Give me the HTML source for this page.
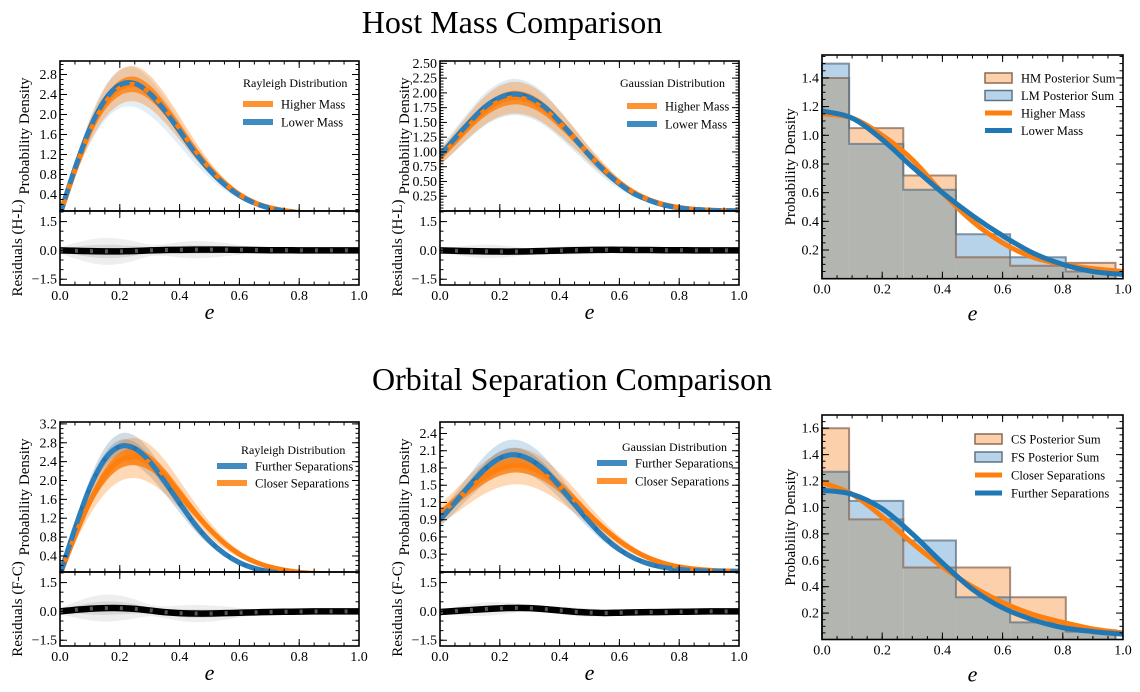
<!DOCTYPE html>
<html><head><meta charset="utf-8"><style>
html,body{margin:0;padding:0;background:#fff;}
svg{display:block;font-family:"Liberation Serif",serif;}
</style></head><body>
<svg id="fig" width="1140" height="692" viewBox="0 0 1140 692" xmlns="http://www.w3.org/2000/svg">
<text x="512" y="33" font-size="32" text-anchor="middle">Host Mass Comparison</text>
<text x="572" y="390" font-size="32" text-anchor="middle">Orbital Separation Comparison</text>
</svg>
<script>
// ---- shared e grid (categories) ----
const eGrid = [0,0.05,0.1,0.15,0.2,0.25,0.3,0.35,0.4,0.45,0.5,0.55,0.6,0.65,0.7,0.75,0.8,0.85,0.9,0.95,1.0];
// ---- Host mass, Rayleigh ----
const rayHigher = [0,0.88,1.66,2.22,2.53,2.60,2.44,2.12,1.72,1.30,0.93,0.63,0.40,0.24,0.14,0.08,0.04,0.02,0.01,0.004,0.002];
const rayLower  = [0,0.92,1.72,2.29,2.59,2.62,2.42,2.08,1.67,1.25,0.89,0.60,0.38,0.23,0.13,0.07,0.035,0.016,0.007,0.003,0.001];
const resRayHL  = [0,-0.02,-0.04,-0.05,-0.05,-0.03,0.0,0.02,0.03,0.04,0.04,0.04,0.03,0.02,0.01,0.01,0,0,0,0,0];
// ---- Host mass, Gaussian ----
const gauHigher = [0.90,1.18,1.46,1.70,1.86,1.92,1.87,1.72,1.49,1.23,0.95,0.70,0.48,0.31,0.19,0.11,0.06,0.03,0.015,0.007,0.003];
const gauLower  = [0.94,1.23,1.51,1.76,1.92,1.98,1.92,1.76,1.51,1.23,0.94,0.68,0.46,0.29,0.18,0.10,0.054,0.027,0.012,0.005,0.002];
const resGauHL  = [0,-0.02,-0.04,-0.05,-0.06,-0.06,-0.05,-0.03,-0.01,0.01,0.02,0.03,0.03,0.02,0.02,0.01,0.01,0,0,0,0];
// ---- Orbital separation, Rayleigh ----
const rayFurther = [0,0.98,1.85,2.45,2.72,2.68,2.40,1.98,1.52,1.08,0.72,0.45,0.26,0.14,0.07,0.035,0.016,0.007,0.003,0.001,0];
const rayCloser  = [0,0.82,1.55,2.10,2.42,2.50,2.38,2.10,1.72,1.33,0.97,0.67,0.44,0.28,0.17,0.10,0.055,0.03,0.015,0.007,0.003];
const resRayFC   = [0,0.08,0.14,0.17,0.17,0.13,0.05,-0.04,-0.09,-0.11,-0.11,-0.09,-0.07,-0.05,-0.03,-0.02,-0.01,0,0,0,0];
// ---- Orbital separation, Gaussian ----
const gauFurther = [0.90,1.20,1.50,1.78,1.97,2.03,1.95,1.76,1.48,1.17,0.86,0.59,0.38,0.23,0.13,0.07,0.035,0.016,0.007,0.003,0.001];
const gauCloser  = [1.00,1.22,1.45,1.65,1.79,1.85,1.81,1.68,1.48,1.24,0.98,0.74,0.53,0.36,0.23,0.14,0.08,0.042,0.021,0.01,0.004];
const resGauFC   = [-0.03,0.02,0.07,0.12,0.16,0.18,0.17,0.12,0.05,-0.02,-0.06,-0.08,-0.07,-0.05,-0.04,-0.03,-0.02,-0.01,0,0,0];
// ---- residual spread (sample scatter) ----
const resSpread  = [0.15,0.4,0.6,0.7,0.65,0.5,0.3,0.3,0.4,0.45,0.42,0.35,0.25,0.15,0.1,0.05,0.03,0.01,0,0,0];
// ---- Histograms ----
const binEdges = [0,0.09,0.27,0.445,0.625,0.81,0.975];
const hmHist = [1.40,1.05,0.72,0.15,0.09,0.11];
const lmHist = [1.50,0.94,0.62,0.31,0.15,0.05];
const csHist = [1.60,0.91,0.545,0.545,0.32,0.07];
const fsHist = [1.27,1.05,0.75,0.32,0.13,0.06];
const hmCurve = [1.15,1.12,1.0,0.83,0.6,0.40,0.25,0.15,0.10,0.07,0.05];
const lmCurve = [1.17,1.12,0.97,0.78,0.6,0.44,0.30,0.18,0.10,0.05,0.03];
const csCurve = [1.19,1.10,0.93,0.73,0.55,0.40,0.28,0.19,0.13,0.08,0.05];
const fsCurve = [1.13,1.10,0.99,0.80,0.58,0.38,0.24,0.15,0.09,0.06,0.04];
const eCoarse = [0,0.1,0.2,0.3,0.4,0.5,0.6,0.7,0.8,0.9,1.0];

const NS = "http://www.w3.org/2000/svg";
const svg = document.getElementById('fig');
const ORANGE = "#ff7f0e", BLUE = "#1f77b4";

function mk(tag, attrs, parent){
  const el = document.createElementNS(NS, tag);
  for (const k in attrs) el.setAttribute(k, attrs[k]);
  (parent || svg).appendChild(el);
  return el;
}
function named(el, name, inter){
  
  
  return el;
}
function linScale(d0,d1,r0,r1){ return v => r0 + (v-d0)/(d1-d0)*(r1-r0); }
function smoothPath(pts){
  let d = "M"+pts[0][0].toFixed(2)+","+pts[0][1].toFixed(2);
  for (let i=0;i<pts.length-1;i++){
    const p0=pts[Math.max(0,i-1)], p1=pts[i], p2=pts[i+1], p3=pts[Math.min(pts.length-1,i+2)];
    const c1x=p1[0]+(p2[0]-p0[0])/6, c1y=p1[1]+(p2[1]-p0[1])/6;
    const c2x=p2[0]-(p3[0]-p1[0])/6, c2y=p2[1]-(p3[1]-p1[1])/6;
    d += " C"+c1x.toFixed(2)+","+c1y.toFixed(2)+" "+c2x.toFixed(2)+","+c2y.toFixed(2)+" "+p2[0].toFixed(2)+","+p2[1].toFixed(2);
  }
  return d;
}
function fmt(v,dec){ return v<0 ? "\u2212"+Math.abs(v).toFixed(dec) : v.toFixed(dec); }

function frame(g, x0,x1,y0,y1, sx, sy, xMaj, xMin, yMaj, yMin, yDec, showX, name){
  const r = mk('rect',{x:x0,y:y0,width:x1-x0,height:y1-y0,fill:'none',stroke:'#000','stroke-width':1.6},g);
  named(r, name+'-frame', false);
  const tg = mk('g',{stroke:'#000','stroke-width':1},g);
  named(tg, name+'-ticks', false);
  xMin.forEach(v=>{const X=sx(v); mk('line',{x1:X,x2:X,y1:y1,y2:y1-3.5},tg); mk('line',{x1:X,x2:X,y1:y0,y2:y0+3.5},tg);});
  xMaj.forEach(v=>{const X=sx(v); mk('line',{x1:X,x2:X,y1:y1,y2:y1-7},tg); mk('line',{x1:X,x2:X,y1:y0,y2:y0+7},tg);});
  yMin.forEach(v=>{const Y=sy(v); if(Y<y0-0.5||Y>y1+0.5)return; mk('line',{x1:x0,x2:x0+3.5,y1:Y,y2:Y},tg); mk('line',{x1:x1,x2:x1-3.5,y1:Y,y2:Y},tg);});
  yMaj.forEach(v=>{const Y=sy(v); mk('line',{x1:x0,x2:x0+7,y1:Y,y2:Y},tg); mk('line',{x1:x1,x2:x1-7,y1:Y,y2:Y},tg);
    const t = mk('text',{x:x0-3,y:Y+4.5,'font-size':14,'text-anchor':'end'},g);
    named(t,name+'-y-tick-label',false);
    t.textContent = fmt(v,yDec);});
  if (showX){
    xMaj.forEach(v=>{const t = mk('text',{x:sx(v),y:y1+15,'font-size':14,'text-anchor':'middle'},g);
      named(t,name+'-x-tick-label',false);
      t.textContent = v.toFixed(1);});
  }
}
function range(a,b,s){ const out=[]; for(let v=a; v<=b+1e-9; v+=s) out.push(Math.round(v*1000)/1000); return out; }
const xMajor = [0,0.2,0.4,0.6,0.8,1.0];
const xMinor = range(0,1,0.05);

function curvePanel(cfg){
  const g = mk('g',{}); named(g, cfg.name, false);
  const sx = linScale(0,1,cfg.x0,cfg.x1);
  const sy = linScale(cfg.ymin,cfg.ymax,cfg.div,cfg.top);
  const sr = linScale(-1.8,2.05,cfg.bot,cfg.div);
  const clipId = cfg.name+'-clip';
  const cp = mk('clipPath',{id:clipId},g); mk('rect',{x:cfg.x0,y:cfg.top,width:cfg.x1-cfg.x0,height:cfg.div-cfg.top},cp);
  const clipR = cfg.name+'-clipr';
  const cp2 = mk('clipPath',{id:clipR},g); mk('rect',{x:cfg.x0,y:cfg.div,width:cfg.x1-cfg.x0,height:cfg.bot-cfg.div},cp2);
  const plot = mk('g',{'clip-path':'url(#'+clipId+')'},g); named(plot,cfg.name+'-plot-area',false);
  function band(vals, lo, hi, color, op, nm){
    const up = eGrid.map((e,i)=>[sx(e), sy(vals[i]*hi)]);
    const dn = eGrid.map((e,i)=>[sx(e), sy(vals[i]*lo)]).reverse();
    const p = mk('path',{d: smoothPath(up)+" L"+smoothPath(dn).slice(1)+" Z", fill:color, opacity:op, stroke:'none'}, plot);
    named(p, nm, false);
  }
  cfg.series.forEach(s=>{
    if (s.outerOp>0) band(s.vals, s.spread[0], s.spread[1], s.bandColor, s.outerOp, s.key+'-samples-outer');
    if (s.bandOp>0) band(s.vals, s.spread[2], s.spread[3], s.bandColor, s.bandOp, s.key+'-samples-inner');
  });
  cfg.series.forEach(s=>{
    const pts = eGrid.map((e,i)=>[sx(e), sy(s.vals[i])]);
    const p = mk('path',{d:smoothPath(pts),fill:'none',stroke:s.color,'stroke-width':5,'stroke-dasharray':s.dash||'none','stroke-linecap':'butt'},plot);
    named(p, s.key+'-mean-line', false);
  });
  const rplot = mk('g',{'clip-path':'url(#'+clipR+')'},g); named(rplot,cfg.name+'-residual-area',false);
  [[1.0,0.14],[0.5,0.2]].forEach(([f,op])=>{
    const up = eGrid.map((e,i)=>[sx(e), sr(cfg.res[i]+resSpread[i]*f*cfg.resAmp)]);
    const dn = eGrid.map((e,i)=>[sx(e), sr(cfg.res[i]-resSpread[i]*f*cfg.resAmp)]).reverse();
    const p = mk('path',{d:smoothPath(up)+" L"+smoothPath(dn).slice(1)+" Z",fill:'#888',opacity:op},rplot);
    named(p, 'residual-samples-band', false);
  });
  const rpts = eGrid.map((e,i)=>[sx(e), sr(cfg.res[i])]);
  const rl = mk('path',{d:smoothPath(rpts),fill:'none',stroke:'#000','stroke-width':6.5},rplot);
  named(rl,'residual-mean-line',false);
  const rl2 = mk('path',{d:smoothPath(rpts),fill:'none',stroke:'#555','stroke-width':4,'stroke-dasharray':'3,12'},rplot);
  named(rl2,'residual-dash-overlay',false);
  frame(g, cfg.x0,cfg.x1,cfg.top,cfg.div, sx, sy, xMajor, xMinor, cfg.yticks, range(cfg.ymin<0?0:Math.ceil(cfg.ymin/cfg.yminor)*cfg.yminor, cfg.ymax, cfg.yminor), cfg.ydec, false, cfg.name+'-main');
  frame(g, cfg.x0,cfg.x1,cfg.div,cfg.bot, sx, sr, xMajor, xMinor, [-1.5,0,1.5], range(-1.5,2.0,0.5), 1, true, cfg.name+'-residual');
  const yl = mk('text',{transform:'translate('+(cfg.x0-31)+','+((cfg.top+cfg.div)/2)+') rotate(-90)','font-size':15,'text-anchor':'middle'},g);
  named(yl, cfg.name+'-y-axis-title', false); yl.textContent = 'Probability Density';
  const rl3 = mk('text',{transform:'translate('+(cfg.x0-38)+','+((cfg.div+cfg.bot)/2)+') rotate(-90)','font-size':15,'text-anchor':'middle'},g);
  named(rl3, cfg.name+'-residual-axis-title', false); rl3.textContent = cfg.resLabel;
  const xl = mk('text',{x:(cfg.x0+cfg.x1)/2,y:cfg.bot+34,'font-size':22,'font-style':'italic','text-anchor':'middle'},g);
  named(xl, cfg.name+'-x-axis-title', false); xl.textContent = 'e';
  const lg = mk('g',{},g); named(lg, cfg.name+'-legend', false);
  const lt = mk('text',{x:cfg.leg.tx,y:cfg.leg.ty,'font-size':12,'text-anchor':'start'},lg);
  named(lt,'legend-title',false); lt.textContent = cfg.leg.title;
  cfg.leg.items.forEach((it,k)=>{
    const y = cfg.leg.y0 + k*cfg.leg.dy;
    const ln = mk('line',{x1:cfg.leg.lx,x2:cfg.leg.lx+30,y1:y,y2:y,stroke:it.color,'stroke-width':6,opacity:0.85},lg);
    named(ln,'legend-swatch',false);
    const t = mk('text',{x:cfg.leg.lx+38,y:y+4.5,'font-size':12.5},lg);
    named(t,'legend-entry',true); t.textContent = it.label;
  });
}

curvePanel({name:'host-rayleigh',x0:60,x1:359,top:61,div:211,bot:285,ymin:0.07,ymax:3.07,
  yticks:range(0.4,2.8,0.4),yminor:0.1,ydec:1,res:resRayHL,resAmp:1,resLabel:'Residuals (H-L)',
  series:[{key:'lower-mass-band',vals:rayLower,color:BLUE,bandColor:'#8fbddc',outerOp:0.25,bandOp:0,spread:[0.82,1.12,0.9,1.06]},
          {key:'higher-mass',vals:rayHigher,color:ORANGE,bandColor:ORANGE,outerOp:0.35,bandOp:0.8,spread:[0.87,1.14,0.94,1.06]},
          {key:'lower-mass',vals:rayLower,color:'#2f7fba',bandColor:'#6aa6d0',outerOp:0,bandOp:0,spread:[1,1,1,1],dash:'11,5'}],
  leg:{title:'Rayleigh Distribution',tx:243,ty:87,lx:243,y0:104,dy:18,items:[{label:'Higher Mass',color:ORANGE},{label:'Lower Mass',color:BLUE}]}});

curvePanel({name:'host-gaussian',x0:440,x1:739,top:61,div:211,bot:285,ymin:0.0,ymax:2.54,
  yticks:range(0.25,2.5,0.25),yminor:0.05,ydec:2,res:resGauHL,resAmp:0.5,resLabel:'Residuals (H-L)',
  series:[{key:'lower-mass-band',vals:gauLower,color:BLUE,bandColor:'#8fbddc',outerOp:0.3,bandOp:0,spread:[0.82,1.13,0.9,1.07]},
          {key:'higher-mass',vals:gauHigher,color:ORANGE,bandColor:ORANGE,outerOp:0.35,bandOp:0.8,spread:[0.86,1.14,0.94,1.06]},
          {key:'lower-mass',vals:gauLower,color:'#2f7fba',bandColor:'#6aa6d0',outerOp:0,bandOp:0,spread:[1,1,1,1],dash:'11,5'}],
  leg:{title:'Gaussian Distribution',tx:620,ty:87,lx:627,y0:106,dy:18,items:[{label:'Higher Mass',color:ORANGE},{label:'Lower Mass',color:BLUE}]}});

curvePanel({name:'orbit-rayleigh',x0:60,x1:359,top:422,div:572,bot:646,ymin:0.06,ymax:3.24,
  yticks:range(0.4,3.2,0.4),yminor:0.1,ydec:1,res:resRayFC,resAmp:1,resLabel:'Residuals (F-C)',
  series:[{key:'further-separations-band',vals:rayFurther,color:BLUE,bandColor:'#7d98ad',outerOp:0.35,bandOp:0.45,spread:[0.87,1.1,0.94,1.05]},
          {key:'closer-separations',vals:rayCloser,color:ORANGE,bandColor:ORANGE,outerOp:0.3,bandOp:0.85,spread:[0.82,1.16,0.93,1.07]},
          {key:'further-separations',vals:rayFurther,color:'#2f7fba',bandColor:'#7d98ad',outerOp:0,bandOp:0,spread:[1,1,1,1],dash:'14,4'}],
  leg:{title:'Rayleigh Distribution',tx:241,ty:454,lx:217,y0:466,dy:17,items:[{label:'Further Separations',color:BLUE},{label:'Closer Separations',color:ORANGE}]}});

curvePanel({name:'orbit-gaussian',x0:440,x1:739,top:422,div:572,bot:646,ymin:-0.01,ymax:2.6,
  yticks:range(0.3,2.4,0.3),yminor:0.1,ydec:1,res:resGauFC,resAmp:0.5,resLabel:'Residuals (F-C)',
  series:[{key:'further-separations-band',vals:gauFurther,color:BLUE,bandColor:'#5f9cc8',outerOp:0.3,bandOp:0.5,spread:[0.86,1.13,0.93,1.06]},
          {key:'closer-separations',vals:gauCloser,color:ORANGE,bandColor:ORANGE,outerOp:0.3,bandOp:0.8,spread:[0.82,1.16,0.93,1.07]},
          {key:'further-separations',vals:gauFurther,color:'#2f7fba',bandColor:'#5f9cc8',outerOp:0,bandOp:0,spread:[1,1,1,1],dash:'14,4'}],
  leg:{title:'Gaussian Distribution',tx:622,ty:451,lx:597,y0:463,dy:18,items:[{label:'Further  Separations',color:BLUE},{label:'Closer Separations',color:ORANGE}]}});

function histPanel(cfg){
  const g = mk('g',{}); named(g, cfg.name, false);
  const sx = linScale(0,1,cfg.x0,cfg.x1);
  const sy = linScale(0,cfg.ymax,cfg.bot,cfg.top);
  for (let i=0;i<binEdges.length-1;i++){
    const xa=sx(binEdges[i]), xb=sx(binEdges[i+1]);
    const a=cfg.ha[i], b=cfg.hb[i], lo=Math.min(a,b), hi=Math.max(a,b);
    const gr = mk('rect',{x:xa,y:sy(lo),width:xb-xa,height:sy(0)-sy(lo),fill:'#b3b5b0'},g);
    named(gr, 'hist-overlap-bin', false);
    const top = mk('rect',{x:xa,y:sy(hi),width:xb-xa,height:sy(lo)-sy(hi),fill:a>b?'#fdd0ac':'#b7d3ea'},g);
    named(top, a>b?cfg.keyA+'-bin':cfg.keyB+'-bin', false);
  }
  [[cfg.ha,'#8a6a55'],[cfg.hb,'#5d7487']].forEach(([h,c],k)=>{
    let d="M"+sx(0)+","+sy(0);
    for (let i=0;i<binEdges.length-1;i++){ d+=" L"+sx(binEdges[i])+","+sy(h[i])+" L"+sx(binEdges[i+1])+","+sy(h[i]); }
    d+=" L"+sx(binEdges[binEdges.length-1])+","+sy(0);
    const p = mk('path',{d:d,fill:'none',stroke:c,'stroke-width':2,opacity:0.75},g);
    named(p, (k?cfg.keyB:cfg.keyA)+'-outline', false);
  });
  cfg.curves.forEach(c=>{
    const p = mk('path',{d:smoothPath(eCoarse.map((e,i)=>[sx(e),sy(c.vals[i])])),fill:'none',stroke:c.color,'stroke-width':5},g);
    named(p, c.key+'-curve', false);
  });
  frame(g, cfg.x0,cfg.x1,cfg.top,cfg.bot, sx, sy, xMajor, xMinor, range(0.2,cfg.ymax-0.05,0.2), range(0.05,cfg.ymax,0.05), 1, true, cfg.name);
  const yl = mk('text',{transform:'translate('+(cfg.x0-27)+','+((cfg.top+cfg.bot)/2)+') rotate(-90)','font-size':15,'text-anchor':'middle'},g);
  named(yl, cfg.name+'-y-axis-title', false); yl.textContent='Probability Density';
  const xl = mk('text',{x:(cfg.x0+cfg.x1)/2,y:cfg.bot+42,'font-size':22,'font-style':'italic','text-anchor':'middle'},g);
  named(xl, cfg.name+'-x-axis-title', false); xl.textContent='e';
  const lg = mk('g',{},g); named(lg, cfg.name+'-legend', false);
  cfg.leg.forEach((it,k)=>{
    const y = cfg.ly + k*cfg.ldy;
    if (it.box){
      const r = mk('rect',{x:cfg.lx,y:y-5,width:27,height:10,fill:it.box,stroke:it.edge,'stroke-width':1.5},lg);
      named(r,'legend-swatch',false);
    } else {
      const l = mk('line',{x1:cfg.lx,x2:cfg.lx+27,y1:y,y2:y,stroke:it.color,'stroke-width':5},lg);
      named(l,'legend-swatch',false);
    }
    const t = mk('text',{x:cfg.lx+36,y:y+4.5,'font-size':12.5},lg);
    named(t,'legend-entry',true); t.textContent=it.label;
  });
}
histPanel({name:'host-histogram',x0:822,x1:1123,top:55,bot:278.7,ymax:1.56,ha:hmHist,hb:lmHist,keyA:'hm-posterior-sum',keyB:'lm-posterior-sum',
  curves:[{key:'higher-mass',vals:hmCurve,color:ORANGE},{key:'lower-mass',vals:lmCurve,color:BLUE}],
  lx:985,ly:78,ldy:17.5,leg:[{label:'HM Posterior Sum',box:'#fdd0ac',edge:'#8a6a55'},{label:'LM Posterior Sum',box:'#b7d3ea',edge:'#5d7487'},{label:'Higher Mass',color:ORANGE},{label:'Lower Mass',color:BLUE}]});
histPanel({name:'orbit-histogram',x0:822,x1:1123,top:415,bot:639.5,ymax:1.70,ha:csHist,hb:fsHist,keyA:'cs-posterior-sum',keyB:'fs-posterior-sum',
  curves:[{key:'closer-separations',vals:csCurve,color:ORANGE},{key:'further-separations',vals:fsCurve,color:BLUE}],
  lx:975,ly:439,ldy:18,leg:[{label:'CS Posterior Sum',box:'#fdd0ac',edge:'#8a6a55'},{label:'FS Posterior Sum',box:'#b7d3ea',edge:'#5d7487'},{label:'Closer Separations',color:ORANGE},{label:'Further Separations',color:BLUE}]});
</script>
</body></html>
